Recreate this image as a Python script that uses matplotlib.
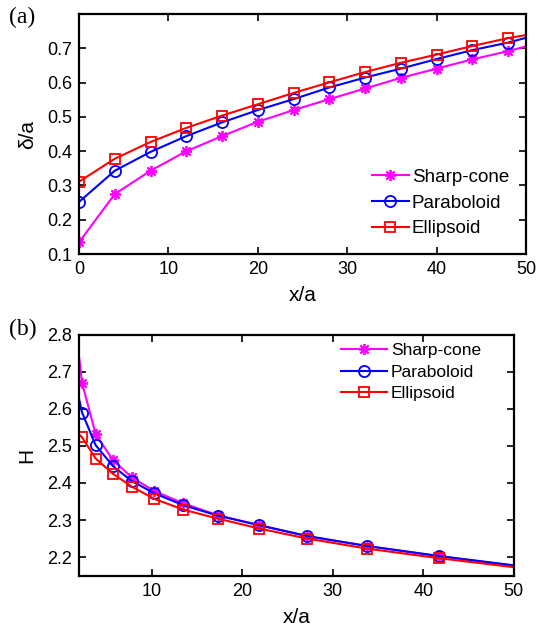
import numpy as np
import matplotlib
matplotlib.use('Agg')
import matplotlib.pyplot as plt

plt.rcParams['font.family'] = ['Liberation Sans', 'DejaVu Sans']

# panel (a): tip displacement vs x/a
xa = [0, 4, 8, 12, 16, 20, 24, 28, 32, 36, 40, 44, 48, 50]
cone_a = [0.134, 0.275, 0.343, 0.400, 0.444, 0.486, 0.520, 0.552, 0.583, 0.614, 0.641, 0.668, 0.692, 0.706]
parab_a = [0.252, 0.343, 0.398, 0.444, 0.484, 0.520, 0.552, 0.586, 0.615, 0.641, 0.669, 0.695, 0.717, 0.731]
ellip_a = [0.311, 0.378, 0.427, 0.468, 0.504, 0.537, 0.570, 0.601, 0.631, 0.658, 0.682, 0.707, 0.730, 0.739]

# panel (b): H vs x/a
xb = [2.0, 2.3, 3.8, 5.7, 7.8, 10.3, 13.5, 17.3, 21.9, 27.2, 33.8, 41.8, 50]
cone_b = [2.735, 2.670, 2.532, 2.462, 2.415, 2.378, 2.345, 2.313, 2.286, 2.256, 2.230, 2.202, 2.177]
parab_b = [2.623, 2.590, 2.502, 2.446, 2.405, 2.372, 2.340, 2.312, 2.286, 2.257, 2.230, 2.203, 2.178]
ellip_b = [2.530, 2.523, 2.466, 2.425, 2.390, 2.357, 2.328, 2.304, 2.277, 2.250, 2.223, 2.197, 2.173]

labels = ['Sharp-cone', 'Paraboloid', 'Ellipsoid']
colors = ['#ff00ff', '#0000ff', '#ff0000']
markers = [(8, 2, 0), 'o', 's']
msizes = [8, 8, 7]

fig = plt.figure(figsize=(5.38, 6.28), dpi=100)
ax1 = fig.add_axes([0.1468, 0.5955, 0.831, 0.382])
ax2 = fig.add_axes([0.1468, 0.0833, 0.808, 0.3838])

def style(ax):
    for s in ax.spines.values():
        s.set_linewidth(1.6)
    ax.tick_params(direction='in', top=True, right=True, labelsize=13, width=1.2, length=5, pad=5)

for ys, c, m, ms, lab in zip([cone_a, parab_a, ellip_a], colors, markers, msizes, labels):
    ax1.plot(xa, ys, color=c, marker=m, ms=ms, mfc='none', mec=c, mew=1.3, lw=1.5,
             markevery=list(range(len(xa) - 1)), label=lab)
ax1.set_xlim(0, 50)
ax1.set_ylim(0.1, 0.8)
ax1.set_yticks([0.1, 0.2, 0.3, 0.4, 0.5, 0.6, 0.7])
ax1.set_xticks([0, 10, 20, 30, 40, 50])
ax1.set_xlabel('x/a', fontsize=15, labelpad=6)
ax1.set_ylabel('δ/a', fontsize=15, labelpad=7)
style(ax1)
ax1.legend(loc='lower right', frameon=False, fontsize=13.5, handlelength=2.0,
           handletextpad=0.15, labelspacing=0.45, borderaxespad=0.6, borderpad=0.3)

for ys, c, m, ms, lab in zip([cone_b, parab_b, ellip_b], colors, markers, msizes, labels):
    ax2.plot(xb, ys, color=c, marker=m, ms=ms, mfc='none', mec=c, mew=1.3, lw=1.5,
             markevery=list(range(1, len(xb) - 1)), label=lab)
ax2.set_xlim(1.96, 50)
ax2.set_ylim(2.15, 2.8)
ax2.set_yticks([2.2, 2.3, 2.4, 2.5, 2.6, 2.7, 2.8])
ax2.set_xticks([10, 20, 30, 40, 50])
ax2.set_xlabel('x/a', fontsize=15, labelpad=6)
ax2.set_ylabel('H', fontsize=15, labelpad=8)
style(ax2)
ax2.legend(loc='upper right', bbox_to_anchor=(0.945, 1.0), frameon=False, fontsize=12.5,
           handlelength=2.6, handletextpad=0.25, labelspacing=0.35, borderaxespad=0.3,
           borderpad=0.2)

fig.text(0.017, 0.972, '(a)', fontsize=17, family='Liberation Serif', va='center')
fig.text(0.017, 0.476, '(b)', fontsize=17, family='Liberation Serif', va='center')

fig.savefig('out.png', dpi=100)
